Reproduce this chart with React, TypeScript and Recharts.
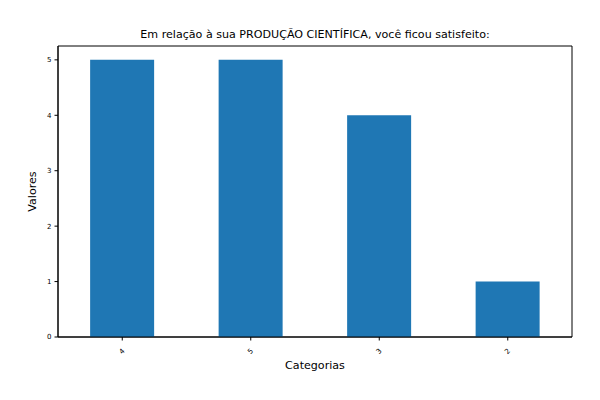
import React from 'react';
import { BarChart, Bar, XAxis, YAxis, Label, ReferenceArea } from 'recharts';

const categories = ['4', '5', '3', '2'];
const values = [5, 5, 4, 1];
const yTicks = [0, 1, 2, 3, 4, 5];
const yMax = 5.25;

const data = categories.map((c, i) => ({ name: c, value: values[i] }));

const FONT = 'DejaVu Sans, sans-serif';

const RotatedTick = (props: any) => {
  const { x, y, payload } = props;
  return (
    <g transform={`translate(${x},${y + 9})`}>
      <text
        x={0}
        y={0}
        transform="rotate(-45)"
        textAnchor="middle"
        dominantBaseline="central"
        fontSize={7}
        fontFamily={FONT}
        fill="#000"
      >
        {payload.value}
      </text>
    </g>
  );
};

const App: React.FC = () => {
  return (
    <div style={{ position: 'absolute', left: 0, top: 0, width: 600, height: 400, background: '#fff' }}>
      <BarChart
        width={600}
        height={400}
        data={data}
        margin={{ top: 46, right: 28, left: 0, bottom: 0 }}
        barCategoryGap="25%"
      >
        <text x={315} y={38} textAnchor="middle" fontSize={11.1} fontFamily={FONT} fill="#000">
          Em relação à sua PRODUÇÃO CIENTÍFICA, você ficou satisfeito:
        </text>
        <XAxis
          dataKey="name"
          height={63}
          stroke="#000"
          tickLine={{ stroke: '#000' }}
          tickSize={3.5}
          tick={<RotatedTick />}
          interval={0}
        >
          <Label value="Categorias" position="insideTop" offset={24} fontSize={11.1} fontFamily={FONT} fill="#000" />
        </XAxis>
        <YAxis
          width={58}
          domain={[0, yMax]}
          ticks={yTicks}
          stroke="#000"
          tickSize={3.5}
          tick={{ fontSize: 7, fontFamily: FONT, fill: '#000' }}
          tickMargin={3}
        >
          <Label
            value="Valores"
            angle={-90}
            position="insideLeft"
            offset={32}
            fontSize={11.1}
            fontFamily={FONT}
            fill="#000"
            style={{ textAnchor: 'middle' }}
          />
        </YAxis>
        <Bar dataKey="value" fill="#1f77b4" isAnimationActive={false} />
        <ReferenceArea y1={0} y2={yMax} fill="none" stroke="#000" strokeWidth={1} ifOverflow="visible" />
      </BarChart>
    </div>
  );
};

export default App;
